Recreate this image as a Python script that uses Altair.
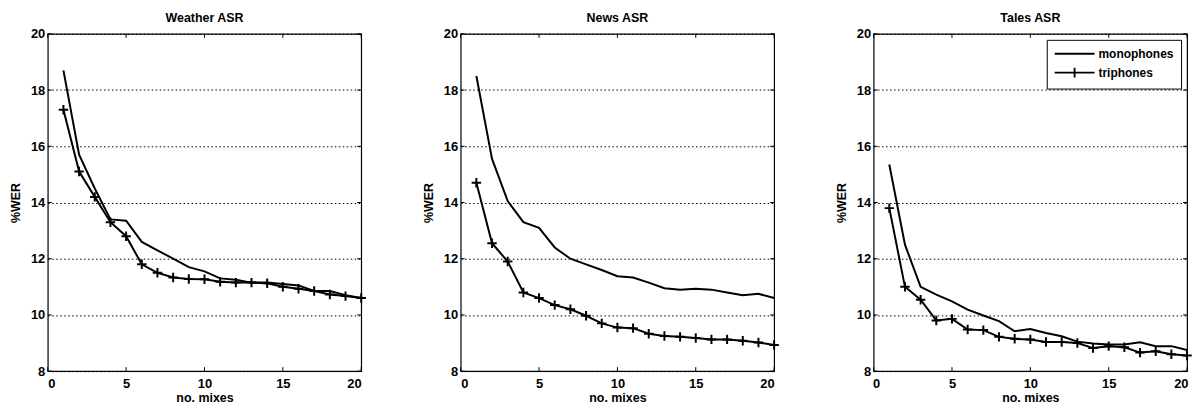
import altair as alt
import pandas as pd

mixes = list(range(1, 21))

weather_mono = [18.7, 15.7, 14.5, 13.4, 13.35, 12.6, 12.3, 12.0, 11.7, 11.55,
                11.3, 11.25, 11.15, 11.15, 11.1, 11.05, 10.85, 10.85, 10.7, 10.6]
weather_tri = [17.3, 15.1, 14.2, 13.3, 12.8, 11.8, 11.5, 11.33, 11.28, 11.27,
               11.18, 11.15, 11.15, 11.13, 11.0, 10.93, 10.85, 10.73, 10.67, 10.6]

news_mono = [18.5, 15.55, 14.05, 13.3, 13.1, 12.4, 12.0, 11.8, 11.6, 11.38,
             11.33, 11.15, 10.95, 10.9, 10.93, 10.9, 10.8, 10.7, 10.75, 10.6]
news_tri = [14.7, 12.55, 11.9, 10.8, 10.6, 10.35, 10.2, 9.97, 9.7, 9.55,
            9.53, 9.33, 9.25, 9.22, 9.18, 9.13, 9.13, 9.08, 9.02, 8.93]

tales_mono = [15.35, 12.5, 11.0, 10.72, 10.48, 10.19, 9.98, 9.78, 9.42, 9.5,
              9.36, 9.24, 9.05, 8.98, 8.95, 8.95, 9.03, 8.89, 8.89, 8.75]
tales_tri = [13.8, 11.0, 10.54, 9.8, 9.86, 9.48, 9.46, 9.22, 9.15, 9.13,
             9.04, 9.04, 9.0, 8.82, 8.89, 8.85, 8.66, 8.71, 8.6, 8.56]

titles = ["Weather ASR", "News ASR", "Tales ASR"]
series_names = ["monophones", "triphones"]
x_ticks = [0, 5, 10, 15, 20]
y_ticks = [8, 10, 12, 14, 16, 18, 20]

W, H = 315, 339
FONT = "Liberation Sans"
PLUS = "M-1,0H1M0,-1V1"
# legend glyphs: a 40px line starting at the left of a 12px symbol cell
LEG_LINE = "M-1,0H5.67"
LEG_LINEPLUS = "M-1,0H5.67M2.33,-0.83V0.83"


def panel(title, mono, tri, with_legend):
    df = pd.DataFrame({
        "mixes": mixes + mixes,
        "wer": mono + tri,
        "model": [series_names[0]] * len(mono) + [series_names[1]] * len(tri),
    })
    xs = alt.Scale(domain=[0, 20], nice=False)
    ys = alt.Scale(domain=[8, 20], nice=False)
    xaxis_kw = dict(values=x_ticks, title="no. mixes", grid=False, ticks=False,
                    labelPadding=6, titlePadding=1, domain=False)
    if with_legend:
        # last panel sits at the window edge: keep its end labels inside
        xaxis_kw.update(labelFlush=True, labelFlushOffset=1)
    x = alt.X("mixes:Q", scale=xs, axis=alt.Axis(**xaxis_kw))
    y = alt.Y("wer:Q", scale=ys, axis=alt.Axis(
        values=y_ticks, title="%WER", grid=True, ticks=False,
        labelPadding=3, titlePadding=8, domain=False))

    lines = alt.Chart(df).mark_line(color="black", strokeWidth=2).encode(
        x=x, y=y, detail="model:N")
    plus = alt.Chart(df).transform_filter(
        alt.datum.model == series_names[1]
    ).mark_point(shape=PLUS, size=90, filled=False, color="black",
                 strokeWidth=2, opacity=1).encode(x="mixes:Q", y="wer:Q")

    xt = pd.DataFrame({"mixes": x_ticks})
    yt = pd.DataFrame({"wer": y_ticks})
    xtick_top = alt.Chart(xt).mark_rule(color="black", strokeWidth=1).encode(
        x="mixes:Q", y=alt.value(0), y2=alt.value(4))
    xtick_bot = alt.Chart(xt).mark_rule(color="black", strokeWidth=1).encode(
        x="mixes:Q", y=alt.value(H - 4), y2=alt.value(H))
    ytick_l = alt.Chart(yt).mark_rule(color="black", strokeWidth=1).encode(
        y="wer:Q", x=alt.value(0), x2=alt.value(4))
    ytick_r = alt.Chart(yt).mark_rule(color="black", strokeWidth=1).encode(
        y="wer:Q", x=alt.value(W - 4), x2=alt.value(W))

    layers = [lines, plus, xtick_top, xtick_bot, ytick_l, ytick_r]
    if with_legend:
        leg = alt.Chart(df).transform_filter("false").mark_point(
            filled=False, color="black", strokeWidth=2, opacity=1
        ).encode(
            x="mixes:Q", y="wer:Q",
            shape=alt.Shape("model:N", scale=alt.Scale(
                domain=series_names, range=[LEG_LINE, LEG_LINEPLUS]),
                legend=alt.Legend(
                    title=None, orient="top-right", offset=6,
                    symbolSize=144, symbolStrokeWidth=1.8, symbolStrokeColor="black",
                    symbolFillColor="transparent",
                    labelFont=FONT, labelFontSize=12, labelFontWeight="bold",
                    labelColor="black", labelOffset=31,
                    strokeColor="black", fillColor="white", padding=7,
                    rowPadding=4)))
        layers.append(leg)

    return alt.layer(*layers).properties(
        width=W, height=H,
        title=alt.TitleParams(title, font=FONT, fontSize=12.5, fontWeight="bold",
                              color="black", offset=3))


chart = alt.hconcat(
    panel(titles[0], weather_mono, weather_tri, False),
    panel(titles[1], news_mono, news_tri, False),
    panel(titles[2], tales_mono, tales_tri, True),
    spacing=100, bounds="flush",
).resolve_legend(shape="independent").resolve_scale(shape="independent").properties(
    padding={"left": 8, "top": 10, "right": 0, "bottom": 0},
    background="white",
).configure_view(
    stroke="black", strokeWidth=1.2
).configure_axis(
    labelFont=FONT, labelFontSize=13, labelFontWeight="bold", labelColor="black",
    titleFont=FONT, titleFontSize=12.5, titleFontWeight="bold", titleColor="black",
    gridColor="black", gridDash=[1.5, 2.5], gridWidth=1, gridOpacity=1,
)

chart.save("out.html", embed_options={"renderer": "svg", "actions": False})
